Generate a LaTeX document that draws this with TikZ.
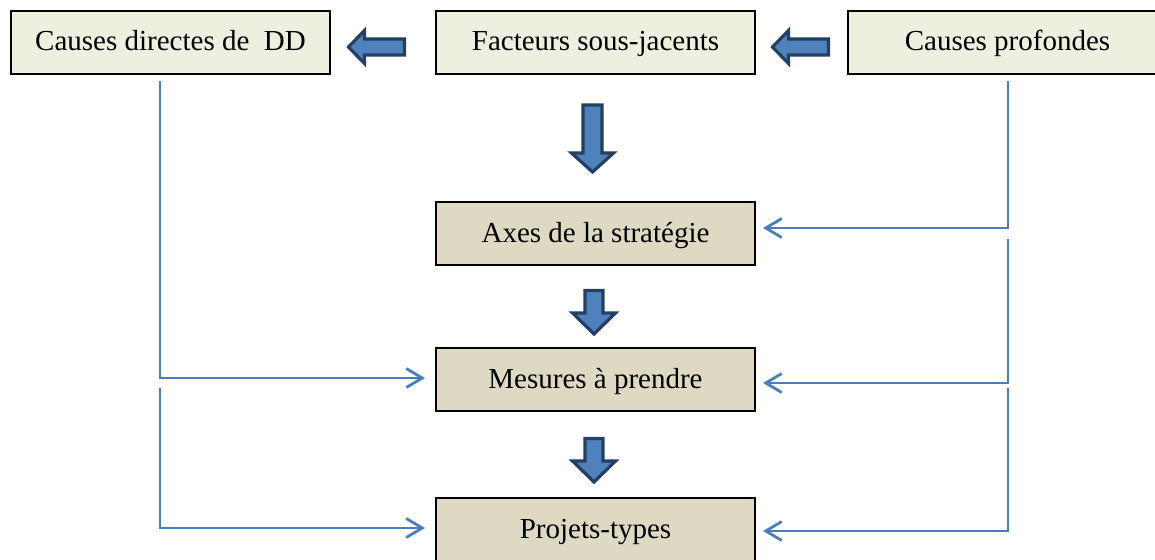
\documentclass[tikz,border=0pt]{standalone}
\usepackage{fontspec}
\setmainfont{Liberation Serif}
\usetikzlibrary{arrows.meta,calc}
\definecolor{boxgreen}{HTML}{EBF1DE}
\definecolor{boxtan}{HTML}{DDD9C3}
\definecolor{arrowfill}{HTML}{4F81BD}
\definecolor{arrowedge}{HTML}{243F60}
\definecolor{linkblue}{HTML}{4A7EBB}

\begin{document}
\begin{tikzpicture}[x=1pt,y=-1pt,
  box/.style={draw=black, line width=2pt, minimum width=319pt, minimum height=63pt,
    inner sep=0pt, text height=25pt, text depth=8pt, font=\fontsize{29}{34}\selectfont},
  cause/.style={box, fill=boxgreen},
  plan/.style={box, fill=boxtan},
  link/.style={draw=linkblue, line width=2.8pt,
    -{Straight Barb[length=16pt,width=19pt,line width=2.8pt]}},
  fat/.style={fill=arrowfill, draw=arrowedge, line width=3.2pt, line join=miter},
  % block arrow pointing down from its origin: shaft length / head length / shaft half-width / head half-width
  pics/fatarrow/.style args={#1/#2/#3/#4}{code={
    \path[fat] (-#3,0) -- (-#3,#1) -- (-#4,#1) -- (0,#1+#2) -- (#4,#1) -- (#3,#1) -- (#3,0) -- cycle;}}
]
\useasboundingbox (0,0) rectangle (1155,559);

% boxes
\node[cause] (c1)   at (170.5,42.5)  {Causes directes de\ \ DD};
\node[cause] (fac)  at (595.5,42.5)  {Facteurs sous-jacents};
\node[cause] (cp)   at (1007.5,42.5) {Causes profondes};
\node[plan]  (axes) at (595.5,233.5) {Axes de la stratégie};
\node[plan]  (mes)  at (595.5,379.5) {Mesures à prendre};
\node[plan]  (proj) at (595.5,529.5) {Projets-types};

% block arrows
\pic[rotate=-90] at ($(fac.west)+(-30.5,4.5)$) {fatarrow={40/16/8/16.5}};
\pic[rotate=-90] at ($(cp.west)+(-18.5,4.5)$) {fatarrow={40/16/8/16.5}};
\pic at ($(fac.south)+(-3,30)$) {fatarrow={48/19/9.5/21}};
\pic at ($(axes.south)+(-1.5,24.5)$) {fatarrow={22.5/21/9/21.5}};
\pic at ($(mes.south)+(-1.5,26.5)$) {fatarrow={22.5/21/9/21.5}};

% elbow links
\coordinate (l1) at (160,81);
\coordinate (l2) at (160,388);
\coordinate (r1) at (1008,81);
\coordinate (r2) at (1008,239);
\coordinate (r3) at (1008,388);
\draw[link] (l1) |- ([xshift=-10pt,yshift=1.5pt]mes.west);
\draw[link] (l2) |- ([xshift=-10pt,yshift=1.5pt]proj.west);
\draw[link] (r1) |- ([xshift=7pt,yshift=5.5pt]axes.east);
\draw[link] (r2) |- ([xshift=7pt,yshift=-3.5pt]mes.east);
\draw[link] (r3) |- ([xshift=7pt,yshift=-1.5pt]proj.east);
\end{tikzpicture}
\end{document}
